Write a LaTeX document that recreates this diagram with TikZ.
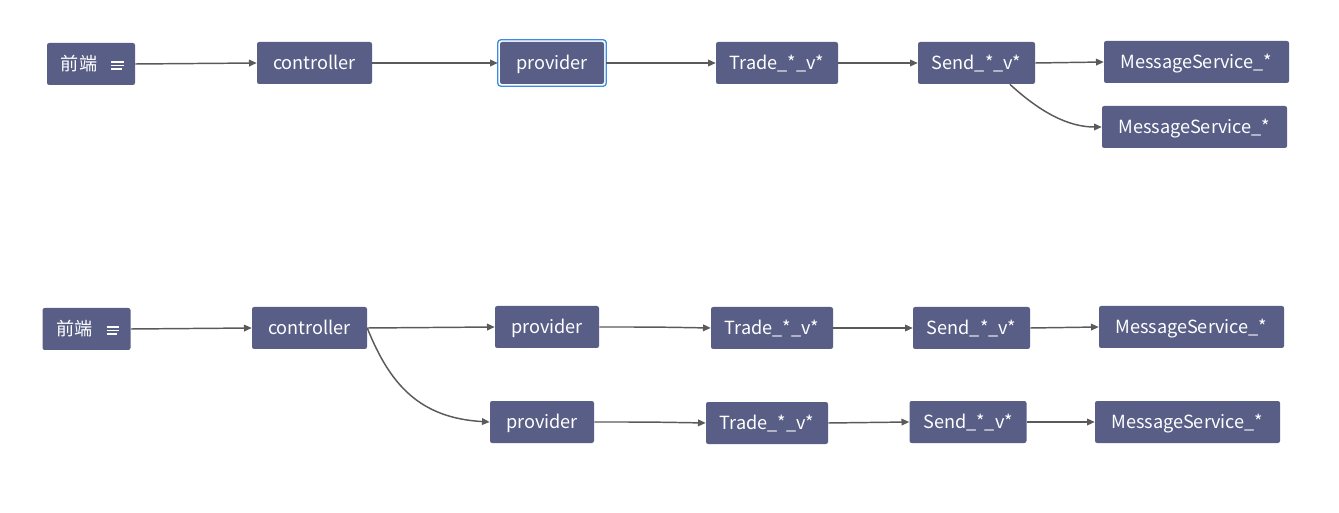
\documentclass[tikz,border=0pt]{standalone}
\usepackage{fontspec}
\setmainfont{Noto Sans CJK SC}
\usetikzlibrary{arrows.meta,calc}
\definecolor{boxc}{HTML}{585E85}
\definecolor{linec}{HTML}{5A5A5A}
\definecolor{selc}{HTML}{3C8CE6}
\tikzset{
  box/.style={fill=boxc, rounded corners=1.6pt, text=white, inner sep=0pt,
    minimum height=31.5pt, text height=12pt, text depth=1.8pt,
    font=\fontsize{13.6pt}{15pt}\selectfont},
  wf/.style={box, minimum width=66pt},
  wc/.style={box, minimum width=86.25pt},
  wp/.style={box, minimum width=78pt},
  wt/.style={box, minimum width=91.5pt},
  ws/.style={box, minimum width=87.75pt},
  wm/.style={box, minimum width=138.75pt},
  conn/.style={draw=linec, line width=1.1pt, -{Triangle[length=5.8pt,width=5pt]}},
  icon/.style={draw=white, line width=1.1pt},
}
\begin{document}
\begin{tikzpicture}[x=0.75pt,y=-0.75pt]
\useasboundingbox (0,0) rectangle (1339,513);
% row 1
\node[wf] (f1) at (91,64) {前端\rule{18pt}{0pt}};
\node[wc] (c1) at (314.5,63) {controller};
\node[wp] (p1) at (552,63) {provider};
\node[wt] (t1) at (777,63) {Trade\_*\_v*};
\node[ws] (s1) at (976.5,63) {Send\_*\_v*};
\node[wm] (m1) at (1196.5,62) {MessageService\_*};
\node[wm] (m2) at (1194.5,127) {MessageService\_*};
\draw[selc, line width=1pt, rounded corners=2.4pt]
  ($(p1.south west)+(-2,2)$) rectangle ($(p1.north east)+(2,-2)$);
% row 2
\node[wf] (f2) at (86.5,329) {前端\rule{18pt}{0pt}};
\node[wc] (c2) at (309.5,328) {controller};
\node[wp] (p2) at (547,327) {provider};
\node[wt] (t2) at (772,328) {Trade\_*\_v*};
\node[ws] (s2) at (971.5,328) {Send\_*\_v*};
\node[wm] (m3) at (1191.5,327) {MessageService\_*};
\node[wp] (p3) at (542,422) {provider};
\node[wt] (t3) at (767,423) {Trade\_*\_v*};
\node[ws] (s3) at (968,422) {Send\_*\_v*};
\node[wm] (m4) at (1187.5,422) {MessageService\_*};
% menu icons
\foreach \n in {f1,f2}{
  \draw[icon] ($(\n.center)+(20,-2)$) -- ++(12.5,0);
  \draw[icon] ($(\n.center)+(20,1.4)$) -- ++(12.5,0);
  \draw[icon] ($(\n.center)+(20,4.8)$) -- ++(10.5,0);
}
% connectors row 1
\draw[conn] (f1.east) -- (c1.west);
\draw[conn] (c1.east) -- ($(p1.west)+(-2,0)$);
\draw[conn] ($(p1.east)+(2,0)$) .. controls (660,63) .. (t1.west);
\draw[conn] (t1.east) -- (s1.west);
\draw[conn] (s1.east) -- (m1.west);
\draw[conn] ([xshift=25pt]s1.south) .. controls (1040,112) and (1068,127) .. (m2.west);
% connectors row 2
\draw[conn] (f2.east) -- (c2.west);
\draw[conn] (c2.east) -- (p2.west);
\draw[conn] (p2.east) .. controls (655,327) .. (t2.west);
\draw[conn] (t2.east) -- (s2.west);
\draw[conn] (s2.east) -- (m3.west);
\draw[conn] (c2.east) .. controls (390,385) and (420,418) .. (p3.west);
\draw[conn] (p3.east) .. controls (650,422) .. (t3.west);
\draw[conn] (t3.east) -- (s3.west);
\draw[conn] (s3.east) -- (m4.west);
\end{tikzpicture}
\end{document}
